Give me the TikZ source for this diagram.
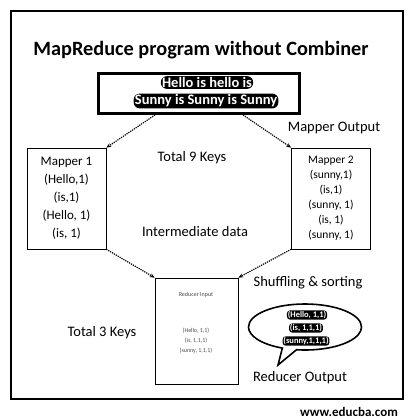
\documentclass[tikz,border=0pt]{standalone}
\usepackage{fontspec}
\setmainfont{Carlito}
\usetikzlibrary{arrows.meta,shapes.callouts}

\tikzset{
  mapbox/.style={draw, semithick, minimum width=79pt, minimum height=101pt, align=center, inner sep=0pt},
  dotarrow/.style={densely dotted, very thick, -{Stealth[length=5pt,width=4pt]}},
  lbl/.style={font=\fontsize{14.5}{17}\selectfont},
  hilite/.style={fill=black, text=white, rounded corners=6pt, inner sep=1.2pt, font=\bfseries\fontsize{14.5}{16}\selectfont},
  outtext/.style={hilite, rounded corners=3pt, inner sep=0.8pt, font=\bfseries\fontsize{8.5}{10}\selectfont},
  redtext/.style={text=black!70, align=center, font=\fontsize{6}{10}\selectfont},
}

\begin{document}
\begin{tikzpicture}[x=1pt, y=-1pt]
\useasboundingbox (0,0) rectangle (415,419);
\draw[line width=1.2pt] (11,11) rectangle (403,399);

\node[font=\bfseries\fontsize{20.3}{24}\selectfont] (title) at (201,50) {MapReduce program without Combiner};

% input text
\node[draw, line width=3pt, minimum width=201pt, minimum height=40pt] (input) at (199,93.5) {};
\node[hilite] (line1) at (207,82.5) {Hello is hello is};
\node[hilite] (line2) at (206,101) {Sunny is Sunny is Sunny};

% mappers
\node[mapbox, font=\fontsize{13}{18}\selectfont] (map1) at (66.5,198.5) {Mapper 1\\(Hello,1)\\(is,1)\\(Hello, 1)\\(is, 1)};
\node[mapbox, font=\fontsize{11.5}{15}\selectfont] (map2) at (331,198.5) {Mapper 2\\(sunny,1)\\(is,1)\\(sunny, 1)\\(is, 1)\\(sunny, 1)};

% reducer
\node[draw, semithick, minimum width=83pt, minimum height=106pt] (reducer) at (196.5,331) {};
\node[redtext] (redin) at (196,295) {Reducer Input};
\node[redtext] (redlist) at (196,341) {(Hello, 1,1)\\(is, 1,1,1)\\(sunny, 1,1,1)};

\draw[dotarrow] (input.206) -- (map1.north east);
\draw[dotarrow] (input.334) -- (map2.north west);
\draw[dotarrow] (map1.south east) -- (reducer.north west);
\draw[dotarrow] (map2.south west) -- (reducer.north east);

% labels
\node[lbl] (mapout) at (334,128) {Mapper Output};
\node[lbl] (keys9) at (192,158) {Total 9 Keys};
\node[lbl] (interm) at (195,232) {Intermediate data};
\node[lbl] (keys3) at (102,333) {Total 3 Keys};
\node[lbl] (shuffle) at (308,283) {Shuffling \& sorting};
\node[lbl] (redout) at (300,378) {Reducer Output};

% reducer output
\node[ellipse callout, draw, line width=1.6pt, minimum width=113pt, minimum height=46pt,
  callout absolute pointer={(278,365)}] (bubble) at (305,327) {};
\node[outtext] (out1) at (307,315) {(Hello, 1,1)};
\node[outtext] (out2) at (306,328) {(is, 1,1,1)};
\node[outtext] (out3) at (306,341) {(sunny,1,1,1)};

\node[font=\bfseries\fontsize{13}{15}\selectfont] (web) at (349,412) {www.educba.com};
\end{tikzpicture}
\end{document}
